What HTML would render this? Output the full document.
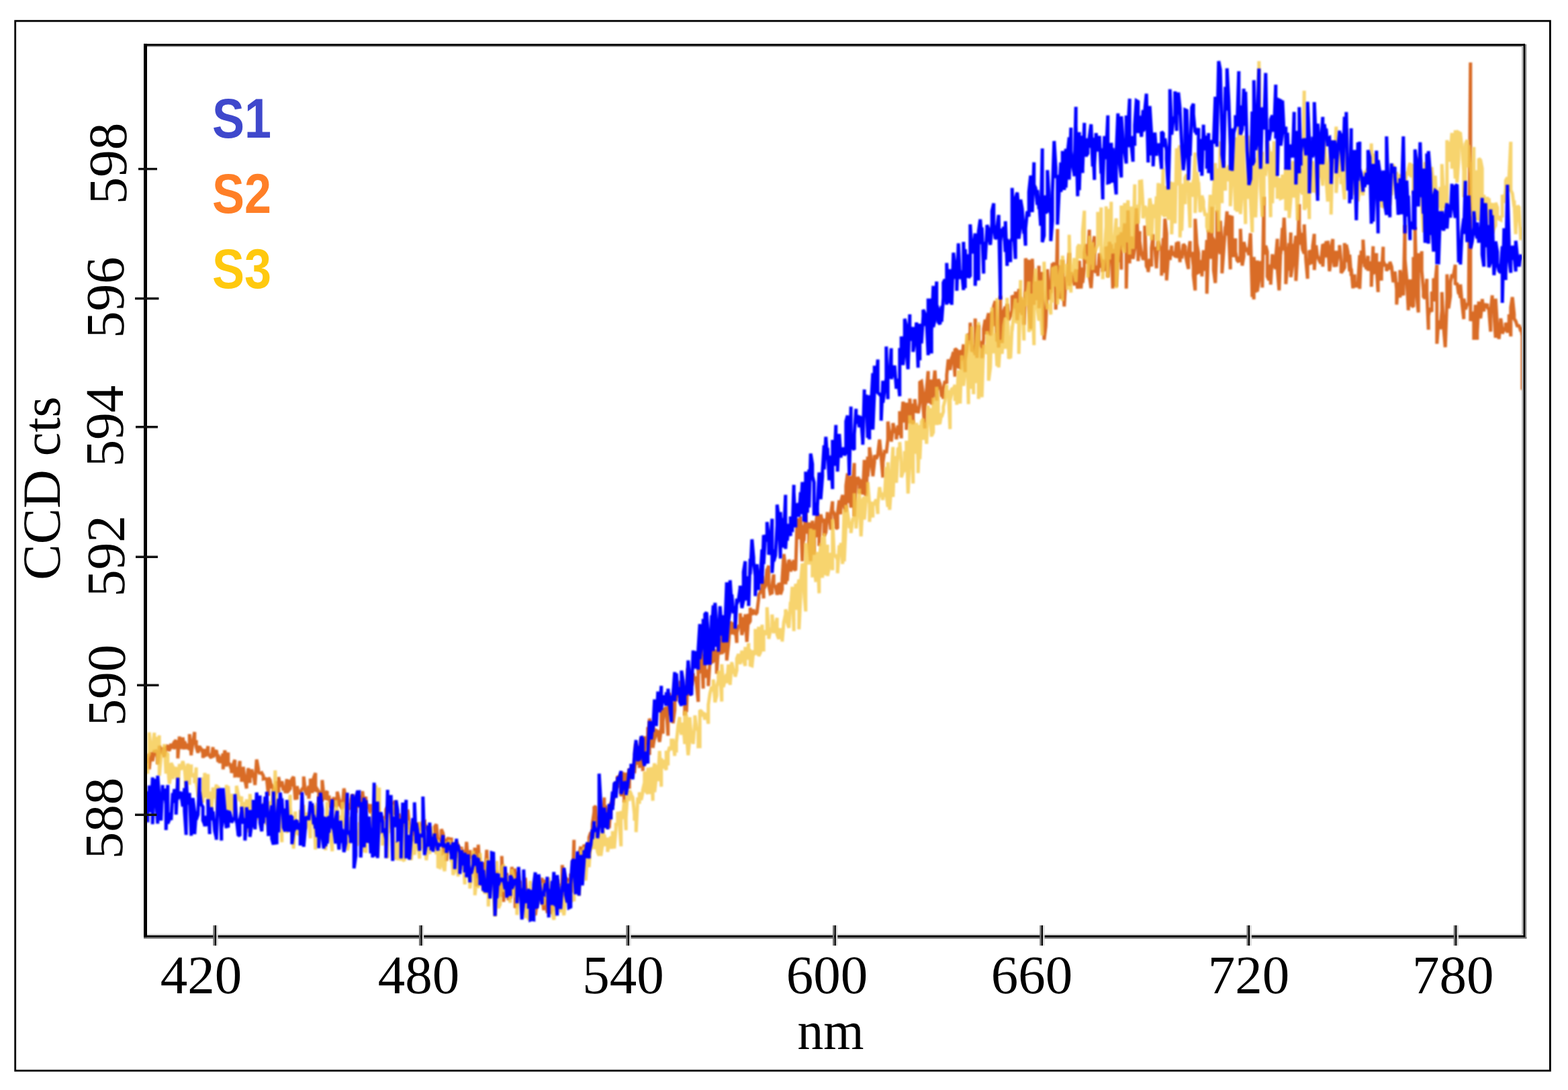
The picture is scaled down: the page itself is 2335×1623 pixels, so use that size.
<!DOCTYPE html>
<html>
<head>
<meta charset="utf-8">
<title>CCD cts vs nm</title>
<style>
html,body{margin:0;padding:0;background:#fff;}
body{width:2335px;height:1623px;overflow:hidden;}
svg{display:block;}
.ser{font-family:"Liberation Serif",serif;font-size:81px;fill:#000;text-rendering:geometricPrecision;}
.leg{font-family:"Liberation Sans",sans-serif;font-weight:bold;font-size:83px;}
.ln{fill:none;stroke-width:5;stroke-linejoin:miter;stroke-miterlimit:2;stroke-linecap:square;}
</style>
</head>
<body>
<svg width="2335" height="1623" viewBox="0 0 2335 1623">
<rect x="0" y="0" width="2335" height="1623" fill="#fff"/>
<!-- outer frame -->
<rect x="22.7" y="31.2" width="2285.7" height="1563" fill="none" stroke="#000" stroke-width="2.8"/>
<!-- curves -->
<defs><filter id="soft" x="0" y="0" width="2335" height="1623" filterUnits="userSpaceOnUse"><feGaussianBlur stdDeviation="0.8"/></filter></defs>
<g>
<polyline class="ln" filter="url(#soft)" stroke="#d96c28" points="219.8,1135.8 219.8,1136.7 222.2,1122.4 222.2,1145.5 224.8,1120.1 227.2,1125.2 227.2,1133.4 229.8,1119.1 229.8,1118.9 232.2,1118.4 234.8,1128.2 234.8,1137.8 237.2,1121.3 237.2,1110.4 239.8,1122.5 242.2,1112.8 242.2,1117.3 244.8,1126.9 247.2,1110.7 247.2,1116.7 249.8,1109.0 249.8,1114.7 252.2,1117.8 254.8,1107.3 254.8,1112.3 257.2,1112.9 257.2,1109.3 259.8,1104.5 262.2,1102.3 262.2,1112.4 264.8,1111.2 264.8,1129.2 267.2,1096.8 269.8,1113.5 269.8,1115.3 272.2,1098.0 274.8,1115.8 274.8,1104.2 277.2,1111.0 277.2,1115.3 279.8,1107.6 282.2,1116.7 282.2,1093.1 284.8,1124.7 284.8,1122.1 287.2,1105.6 289.8,1090.0 289.8,1108.8 292.2,1102.2 292.2,1111.7 294.8,1120.9 297.2,1110.3 297.2,1111.8 299.8,1115.6 302.2,1120.9 302.2,1128.6 304.8,1115.3 304.8,1125.1 307.2,1124.2 309.8,1110.9 309.8,1122.2 312.2,1124.5 312.2,1125.6 314.8,1128.6 317.2,1112.4 317.2,1127.3 319.8,1122.3 322.2,1116.8 322.2,1117.0 324.8,1134.3 324.8,1123.7 327.2,1136.1 329.8,1126.6 329.8,1130.7 332.2,1122.1 332.2,1145.4 334.8,1117.3 337.2,1133.6 337.2,1141.2 339.8,1120.4 339.8,1136.0 342.2,1138.0 344.8,1146.5 344.8,1151.1 347.2,1138.5 349.8,1131.4 349.8,1155.2 352.2,1155.0 352.2,1142.2 354.8,1150.0 357.2,1133.0 357.2,1154.5 359.8,1153.2 359.8,1164.0 362.2,1141.9 364.8,1164.2 364.8,1161.0 367.2,1174.0 367.2,1167.4 369.8,1143.7 372.2,1165.8 372.2,1159.0 374.8,1145.8 377.2,1157.5 377.2,1150.3 379.8,1168.9 379.8,1167.3 382.2,1131.0 384.8,1145.4 384.8,1148.4 387.2,1152.5 387.2,1152.1 389.8,1150.8 392.2,1155.3 392.2,1159.8 394.8,1159.4 397.2,1159.7 397.2,1159.5 399.8,1185.1 399.8,1157.9 402.2,1161.8 404.8,1173.9 404.8,1167.8 407.2,1174.2 407.2,1177.4 409.8,1181.4 412.2,1177.3 412.2,1163.1 414.8,1180.6 414.8,1157.0 417.2,1170.8 419.8,1167.8 419.8,1163.3 422.2,1177.1 424.8,1170.8 424.8,1181.1 427.2,1160.1 427.2,1180.0 429.8,1177.2 432.2,1174.2 432.2,1161.0 434.8,1171.2 434.8,1160.1 437.2,1156.6 439.8,1191.1 439.8,1182.7 442.2,1190.2 442.2,1170.5 444.8,1180.8 447.2,1181.0 447.2,1180.3 449.8,1175.0 452.2,1172.6 452.2,1156.3 454.8,1179.7 454.8,1177.6 457.2,1183.8 459.8,1170.2 459.8,1189.2 462.2,1167.7 462.2,1159.4 464.8,1180.5 467.2,1166.2 467.2,1158.0 469.8,1151.0 469.8,1178.6 472.2,1174.9 474.8,1179.0 474.8,1194.7 477.2,1185.1 479.8,1193.5 479.8,1161.4 482.2,1185.2 482.2,1190.6 484.8,1181.3 487.2,1178.1 487.2,1191.5 489.8,1186.5 489.8,1184.7 492.2,1201.2 494.8,1203.4 494.8,1194.1 497.2,1187.3 499.8,1196.8 499.8,1200.3 502.2,1198.7 502.2,1178.8 504.8,1190.0 507.2,1197.2 507.2,1200.2 509.8,1204.0 509.8,1202.3 512.2,1174.0 514.8,1187.9 514.8,1182.7 517.2,1213.2 517.2,1196.8 519.8,1200.6 522.2,1205.4 522.2,1191.7 524.8,1183.4 527.2,1190.7 527.2,1193.5 529.8,1210.2 529.8,1203.8 532.2,1184.0 534.8,1201.7 534.8,1202.4 537.2,1184.3 537.2,1194.8 539.8,1178.2 542.2,1201.2 542.2,1195.7 544.8,1186.2 544.8,1193.8 547.2,1204.3 549.8,1197.3 549.8,1206.9 552.2,1210.4 554.8,1197.4 554.8,1203.7 557.2,1227.5 557.2,1210.1 559.8,1201.3 562.2,1210.8 562.2,1196.8 564.8,1222.4 564.8,1214.8 567.2,1222.6 569.8,1221.0 569.8,1215.9 572.2,1222.4 574.8,1214.3 574.8,1205.4 577.2,1201.6 577.2,1208.1 579.8,1191.9 582.2,1233.7 582.2,1194.7 584.8,1213.2 584.8,1199.4 587.2,1192.5 589.8,1213.9 589.8,1211.8 592.2,1214.6 592.2,1223.9 594.8,1211.6 597.2,1224.2 597.2,1226.9 599.8,1218.3 602.2,1220.0 602.2,1230.6 604.8,1226.2 604.8,1228.6 607.2,1205.6 609.8,1229.7 609.8,1234.4 612.2,1229.2 612.2,1235.0 614.8,1252.7 617.2,1233.5 617.2,1240.2 619.8,1224.9 619.8,1225.7 622.2,1230.2 624.8,1225.5 624.8,1236.1 627.2,1227.9 629.8,1235.8 629.8,1224.9 632.2,1223.7 632.2,1233.5 634.8,1230.7 637.2,1235.3 637.2,1236.5 639.8,1239.7 639.8,1255.1 642.2,1259.4 644.8,1253.3 644.8,1242.4 647.2,1263.6 647.2,1231.3 649.8,1227.4 652.2,1253.0 652.2,1250.9 654.8,1250.3 657.2,1253.2 657.2,1234.7 659.8,1241.1 659.8,1270.2 662.2,1268.9 664.8,1248.8 664.8,1281.9 667.2,1246.3 667.2,1253.3 669.8,1264.9 672.2,1247.2 672.2,1257.0 674.8,1261.9 677.2,1259.9 677.2,1277.2 679.8,1274.6 679.8,1253.4 682.2,1259.7 684.8,1272.1 684.8,1269.7 687.2,1260.9 687.2,1278.3 689.8,1284.7 692.2,1265.6 692.2,1286.3 694.8,1253.4 694.8,1254.4 697.2,1285.9 699.8,1267.4 699.8,1265.9 702.2,1278.0 704.8,1272.7 704.8,1289.5 707.2,1262.2 707.2,1280.6 709.8,1319.8 712.2,1290.8 712.2,1257.7 714.8,1301.5 714.8,1301.9 717.2,1317.9 719.8,1297.3 719.8,1284.0 722.2,1322.8 722.2,1310.7 724.8,1265.4 727.2,1312.5 727.2,1295.3 729.8,1320.4 732.2,1294.1 732.2,1315.7 734.8,1305.6 734.8,1313.3 737.2,1303.1 739.8,1296.7 739.8,1305.9 742.2,1316.6 742.2,1313.4 744.8,1335.2 747.2,1314.8 747.2,1274.6 749.8,1342.8 752.2,1310.4 752.2,1319.2 754.8,1300.0 754.8,1311.9 757.2,1340.3 759.8,1317.8 759.8,1338.2 762.2,1295.7 762.2,1290.8 764.8,1321.4 767.2,1293.2 767.2,1352.0 769.8,1340.8 769.8,1298.2 772.2,1318.0 774.8,1311.8 774.8,1330.3 777.2,1322.9 779.8,1341.4 779.8,1351.9 782.2,1322.9 782.2,1307.0 784.8,1338.8 787.2,1326.1 787.2,1349.3 789.8,1326.3 789.8,1343.6 792.2,1334.9 794.8,1325.7 794.8,1321.2 797.2,1341.4 797.2,1362.7 799.8,1343.5 802.2,1326.7 802.2,1341.1 804.8,1331.0 807.2,1307.1 807.2,1334.3 809.8,1355.2 809.8,1323.7 812.2,1310.0 814.8,1337.2 814.8,1359.6 817.2,1344.3 817.2,1345.2 819.8,1360.4 822.2,1354.6 822.2,1338.8 824.8,1322.7 827.2,1328.2 827.2,1323.7 829.8,1339.5 829.8,1309.4 832.2,1350.7 834.8,1326.2 834.8,1316.3 837.2,1336.5 837.2,1288.1 839.8,1306.1 842.2,1308.1 842.2,1331.9 844.8,1308.9 844.8,1339.5 847.2,1307.5 849.8,1322.2 849.8,1300.7 852.2,1329.2 854.8,1250.5 854.8,1314.4 857.2,1294.4 857.2,1281.2 859.8,1294.2 862.2,1316.8 862.2,1273.9 864.8,1260.6 864.8,1278.7 867.2,1293.4 869.8,1257.4 869.8,1262.0 872.2,1269.7 872.2,1257.1 874.8,1262.3 877.2,1270.8 877.2,1246.9 879.8,1239.4 882.2,1244.9 882.2,1226.9 884.8,1208.5 884.8,1202.2 887.2,1200.5 889.8,1246.2 889.8,1216.2 892.2,1225.1 892.2,1226.8 894.8,1202.3 897.2,1224.7 897.2,1207.2 899.8,1187.5 899.8,1211.6 902.2,1199.5 904.8,1209.2 904.8,1214.5 907.2,1233.1 909.8,1194.5 909.8,1195.2 912.2,1198.9 912.2,1192.3 914.8,1183.7 917.2,1166.5 917.2,1165.0 919.8,1173.1 919.8,1155.2 922.2,1160.3 924.8,1152.0 924.8,1185.7 927.2,1149.7 929.8,1194.9 929.8,1162.6 932.2,1155.6 932.2,1150.5 934.8,1172.1 937.2,1172.1 937.2,1144.5 939.8,1156.6 939.8,1146.9 942.2,1142.4 944.8,1144.4 944.8,1151.3 947.2,1110.7 947.2,1107.5 949.8,1138.6 952.2,1132.5 952.2,1143.4 954.8,1099.8 957.2,1108.6 957.2,1148.2 959.8,1096.2 959.8,1121.5 962.2,1098.2 964.8,1101.5 964.8,1082.5 967.2,1124.0 967.2,1069.9 969.8,1079.7 972.2,1082.5 972.2,1113.6 974.8,1097.4 974.8,1100.9 977.2,1087.9 979.8,1089.5 979.8,1091.1 982.2,1104.8 984.8,1083.0 984.8,1054.6 987.2,1092.4 987.2,1074.1 989.8,1053.2 992.2,1065.9 992.2,1051.7 994.8,1095.4 994.8,1058.2 997.2,1031.7 999.8,1064.9 999.8,1045.6 1002.2,1076.8 1004.8,1057.2 1004.8,1025.8 1007.2,1044.0 1007.2,1033.2 1009.8,1036.6 1012.2,1036.4 1012.2,1013.7 1014.8,1045.4 1014.8,1026.2 1017.2,1023.7 1019.8,1048.5 1019.8,1065.4 1022.2,1021.5 1022.2,1060.5 1024.8,994.9 1027.2,1035.5 1027.2,1013.8 1029.8,1020.5 1032.2,1002.4 1032.2,1007.1 1034.8,1010.0 1034.8,1007.3 1037.2,1018.9 1039.8,1045.0 1039.8,995.7 1042.2,1002.4 1042.2,971.2 1044.8,966.1 1047.2,1025.3 1047.2,974.4 1049.8,983.3 1049.8,995.2 1052.2,1009.0 1054.8,996.8 1054.8,1021.6 1057.2,984.7 1059.8,955.3 1059.8,986.7 1062.2,984.6 1062.2,967.5 1064.8,973.8 1067.2,968.0 1067.2,1003.2 1069.8,964.3 1069.8,950.5 1072.2,974.5 1074.8,938.6 1074.8,972.7 1077.2,970.3 1077.2,947.0 1079.8,949.5 1082.2,946.4 1082.2,983.6 1084.8,959.8 1087.2,928.3 1087.2,924.9 1089.8,944.6 1089.8,943.7 1092.2,926.7 1094.8,945.3 1094.8,933.4 1097.2,957.2 1097.2,942.7 1099.8,930.8 1102.2,934.0 1102.2,913.2 1104.8,945.5 1107.2,934.7 1107.2,918.8 1109.8,927.2 1109.8,914.5 1112.2,955.8 1114.8,913.8 1114.8,928.6 1117.2,924.7 1117.2,905.1 1119.8,915.5 1122.2,907.3 1122.2,913.1 1124.8,910.2 1124.8,915.0 1127.2,912.2 1129.8,890.7 1129.8,885.8 1132.2,881.7 1134.8,874.4 1134.8,857.7 1137.2,891.1 1137.2,877.4 1139.8,872.3 1142.2,847.2 1142.2,849.5 1144.8,842.3 1144.8,871.4 1147.2,883.8 1149.8,882.6 1149.8,871.7 1152.2,855.3 1152.2,872.9 1154.8,873.0 1157.2,884.9 1157.2,886.0 1159.8,868.4 1162.2,872.4 1162.2,885.1 1164.8,877.9 1164.8,862.6 1167.2,825.0 1169.8,844.6 1169.8,870.0 1172.2,852.3 1172.2,865.1 1174.8,833.7 1177.2,838.7 1177.2,850.7 1179.8,844.6 1182.2,833.9 1182.2,846.7 1184.8,849.2 1184.8,847.9 1187.2,771.8 1189.8,799.1 1189.8,801.7 1192.2,799.7 1192.2,768.9 1194.8,835.6 1197.2,781.7 1197.2,805.3 1199.8,758.8 1199.8,789.4 1202.2,793.6 1204.8,778.0 1204.8,812.0 1207.2,835.5 1209.8,776.1 1209.8,775.3 1212.2,826.1 1212.2,801.1 1214.8,782.7 1217.2,763.2 1217.2,799.9 1219.8,788.9 1219.8,812.9 1222.2,766.0 1224.8,777.9 1224.8,774.1 1227.2,774.5 1227.2,797.8 1229.8,792.5 1232.2,762.5 1232.2,771.9 1234.8,767.9 1237.2,788.7 1237.2,766.4 1239.8,746.5 1239.8,760.2 1242.2,764.3 1244.8,781.7 1244.8,787.1 1247.2,785.6 1247.2,765.0 1249.8,745.1 1252.2,765.7 1252.2,747.9 1254.8,737.0 1257.2,754.0 1257.2,754.4 1259.8,762.3 1259.8,723.2 1262.2,704.9 1264.8,749.0 1264.8,715.8 1267.2,755.8 1267.2,708.8 1269.8,718.0 1272.2,689.4 1272.2,769.1 1274.8,715.3 1274.8,721.6 1277.2,710.6 1279.8,714.9 1279.8,735.2 1282.2,718.6 1284.8,714.5 1284.8,736.6 1287.2,684.8 1287.2,731.5 1289.8,738.4 1292.2,679.9 1292.2,709.5 1294.8,679.0 1294.8,666.0 1297.2,684.1 1299.8,706.9 1299.8,709.2 1302.2,687.8 1302.2,677.7 1304.8,683.4 1307.2,677.2 1307.2,677.0 1309.8,654.5 1312.2,680.1 1312.2,680.4 1314.8,711.0 1314.8,688.5 1317.2,672.5 1319.8,673.3 1319.8,675.0 1322.2,653.7 1322.2,627.7 1324.8,646.8 1327.2,653.6 1327.2,657.6 1329.8,637.5 1329.8,630.0 1332.2,641.1 1334.8,645.2 1334.8,654.3 1337.2,633.6 1339.8,647.5 1339.8,612.3 1342.2,652.7 1342.2,630.6 1344.8,598.1 1347.2,622.3 1347.2,629.0 1349.8,599.4 1349.8,640.1 1352.2,613.1 1354.8,630.2 1354.8,593.5 1357.2,623.1 1359.8,631.5 1359.8,601.3 1362.2,605.5 1362.2,594.4 1364.8,614.8 1367.2,605.6 1367.2,615.4 1369.8,599.8 1369.8,569.3 1372.2,567.8 1374.8,587.2 1374.8,606.7 1377.2,638.1 1377.2,612.4 1379.8,579.9 1382.2,552.6 1382.2,600.2 1384.8,589.2 1387.2,565.3 1387.2,602.4 1389.8,585.3 1389.8,577.1 1392.2,551.7 1394.8,596.5 1394.8,581.3 1397.2,575.4 1397.2,564.5 1399.8,571.7 1402.2,591.0 1402.2,579.4 1404.8,593.9 1404.8,579.5 1407.2,567.4 1409.8,571.0 1409.8,558.6 1412.2,535.3 1414.8,542.5 1414.8,550.9 1417.2,531.9 1417.2,535.1 1419.8,524.0 1422.2,560.8 1422.2,519.3 1424.8,521.3 1424.8,521.6 1427.2,546.3 1429.8,547.2 1429.8,521.2 1432.2,536.5 1434.8,512.7 1434.8,524.8 1437.2,554.1 1437.2,536.9 1439.8,519.5 1442.2,496.7 1442.2,512.1 1444.8,493.1 1444.8,480.5 1447.2,523.1 1449.8,521.2 1449.8,514.0 1452.2,528.5 1452.2,474.3 1454.8,532.8 1457.2,483.8 1457.2,510.1 1459.8,510.0 1462.2,519.7 1462.2,533.4 1464.8,503.5 1464.8,489.6 1467.2,476.0 1469.8,497.6 1469.8,477.1 1472.2,466.2 1472.2,485.0 1474.8,499.6 1477.2,479.8 1477.2,463.7 1479.8,485.4 1479.8,455.9 1482.2,448.2 1484.8,508.7 1484.8,481.7 1487.2,517.5 1489.8,440.5 1489.8,495.3 1492.2,466.4 1492.2,510.8 1494.8,462.7 1497.2,456.6 1497.2,472.7 1499.8,466.4 1499.8,452.5 1502.2,476.4 1504.8,470.4 1504.8,472.0 1507.2,461.8 1507.2,441.9 1509.8,440.9 1512.2,459.5 1512.2,434.2 1514.8,476.9 1517.2,447.4 1517.2,430.3 1519.8,465.6 1519.8,442.8 1522.2,469.1 1524.8,445.9 1524.8,483.6 1527.2,428.6 1527.2,384.8 1529.8,393.5 1532.2,387.2 1532.2,451.8 1534.8,489.6 1537.2,425.1 1537.2,385.3 1539.8,453.8 1539.8,446.9 1542.2,419.3 1544.8,447.0 1544.8,434.2 1547.2,395.7 1547.2,459.0 1549.8,419.4 1552.2,405.1 1552.2,430.2 1554.8,492.5 1554.8,506.1 1557.2,486.3 1559.8,420.4 1559.8,400.9 1562.2,446.2 1564.8,427.6 1564.8,436.4 1567.2,391.9 1567.2,398.8 1569.8,390.9 1572.2,452.4 1572.2,460.9 1574.8,341.0 1574.8,441.8 1577.2,442.4 1579.8,395.0 1579.8,419.8 1582.2,445.1 1582.2,387.1 1584.8,456.3 1587.2,412.0 1587.2,419.4 1589.8,410.5 1592.2,376.6 1592.2,425.6 1594.8,416.1 1594.8,405.8 1597.2,410.3 1599.8,425.0 1599.8,411.4 1602.2,401.1 1602.2,414.3 1604.8,429.7 1607.2,410.8 1607.2,388.1 1609.8,429.5 1612.2,398.3 1612.2,421.3 1614.8,399.8 1614.8,375.4 1617.2,363.8 1619.8,373.1 1619.8,392.6 1622.2,342.0 1622.2,409.5 1624.8,429.0 1627.2,390.6 1627.2,366.6 1629.8,351.8 1629.8,401.6 1632.2,405.7 1634.8,396.0 1634.8,411.1 1637.2,377.3 1639.8,386.9 1639.8,398.7 1642.2,386.6 1642.2,402.2 1644.8,401.7 1647.2,383.7 1647.2,367.4 1649.8,372.2 1649.8,412.8 1652.2,360.1 1654.8,388.1 1654.8,363.5 1657.2,429.6 1657.2,370.5 1659.8,398.6 1662.2,361.6 1662.2,427.1 1664.8,350.8 1667.2,390.2 1667.2,349.3 1669.8,401.4 1669.8,345.7 1672.2,366.4 1674.8,332.6 1674.8,365.6 1677.2,376.6 1677.2,429.8 1679.8,313.3 1682.2,392.2 1682.2,375.1 1684.8,352.2 1687.2,364.9 1687.2,385.6 1689.8,369.5 1689.8,368.5 1692.2,310.0 1694.8,357.6 1694.8,388.8 1697.2,344.2 1697.2,358.8 1699.8,377.6 1702.2,385.3 1702.2,387.2 1704.8,373.5 1704.8,335.9 1707.2,396.0 1709.8,401.0 1709.8,405.1 1712.2,385.6 1714.8,396.8 1714.8,369.5 1717.2,348.8 1717.2,370.9 1719.8,368.3 1722.2,399.5 1722.2,394.1 1724.8,358.6 1724.8,360.3 1727.2,369.8 1729.8,372.4 1729.8,410.4 1732.2,354.7 1732.2,406.5 1734.8,325.6 1737.2,348.1 1737.2,417.5 1739.8,380.7 1742.2,373.0 1742.2,387.1 1744.8,365.7 1744.8,373.7 1747.2,378.6 1749.8,379.2 1749.8,383.2 1752.2,360.8 1752.2,384.3 1754.8,359.6 1757.2,390.4 1757.2,374.0 1759.8,383.8 1759.8,385.0 1762.2,363.6 1764.8,367.1 1764.8,375.2 1767.2,388.7 1769.8,400.5 1769.8,375.9 1772.2,359.1 1772.2,382.7 1774.8,375.3 1777.2,396.7 1777.2,410.0 1779.8,432.5 1779.8,325.8 1782.2,363.2 1784.8,377.3 1784.8,405.5 1787.2,404.4 1789.8,387.5 1789.8,411.6 1792.2,372.6 1792.2,380.4 1794.8,403.3 1797.2,357.3 1797.2,437.3 1799.8,357.5 1799.8,342.3 1802.2,385.3 1804.8,307.9 1804.8,352.5 1807.2,357.1 1807.2,401.5 1809.8,421.3 1812.2,360.7 1812.2,313.3 1814.8,364.7 1817.2,378.2 1817.2,328.7 1819.8,369.0 1819.8,407.0 1822.2,374.3 1824.8,337.1 1824.8,344.7 1827.2,314.8 1827.2,350.0 1829.8,346.9 1832.2,401.1 1832.2,322.9 1834.8,323.7 1834.8,371.1 1837.2,382.5 1839.8,354.9 1839.8,374.7 1842.2,387.4 1844.8,390.2 1844.8,382.4 1847.2,387.5 1847.2,340.7 1849.8,395.5 1852.2,381.8 1852.2,360.2 1854.8,371.3 1854.8,374.8 1857.2,369.3 1859.8,380.0 1859.8,375.1 1862.2,347.3 1864.8,442.2 1864.8,399.5 1867.2,445.8 1867.2,382.5 1869.8,435.5 1872.2,387.7 1872.2,434.1 1874.8,417.0 1874.8,413.0 1877.2,388.9 1879.8,399.6 1879.8,428.3 1882.2,293.0 1882.2,378.8 1884.8,366.0 1887.2,374.9 1887.2,411.8 1889.8,417.2 1892.2,393.9 1892.2,423.8 1894.8,378.4 1894.8,379.1 1897.2,395.0 1899.8,400.3 1899.8,384.1 1902.2,355.6 1902.2,400.0 1904.8,432.3 1907.2,367.9 1907.2,378.2 1909.8,339.3 1909.8,373.1 1912.2,324.0 1914.8,380.1 1914.8,423.0 1917.2,393.6 1919.8,362.0 1919.8,402.9 1922.2,346.2 1922.2,412.7 1924.8,395.3 1927.2,363.3 1927.2,371.8 1929.8,351.0 1929.8,418.3 1932.2,377.1 1934.8,304.0 1934.8,337.6 1937.2,364.4 1937.2,346.8 1939.8,371.5 1942.2,377.7 1942.2,334.2 1944.8,388.0 1947.2,415.0 1947.2,385.7 1949.8,394.6 1949.8,373.1 1952.2,376.3 1954.8,393.1 1954.8,366.9 1957.2,348.2 1957.2,402.0 1959.8,365.4 1962.2,385.3 1962.2,381.3 1964.8,388.1 1967.2,392.6 1967.2,389.6 1969.8,363.4 1969.8,397.1 1972.2,362.5 1974.8,383.3 1974.8,359.1 1977.2,377.4 1977.2,358.4 1979.8,403.9 1982.2,383.8 1982.2,367.9 1984.8,356.1 1984.8,372.6 1987.2,397.6 1989.8,373.3 1989.8,396.9 1992.2,379.7 1994.8,378.0 1994.8,365.1 1997.2,390.3 1997.2,406.4 1999.8,402.7 2002.2,398.3 2002.2,362.1 2004.8,390.3 2004.8,364.3 2007.2,375.1 2009.8,404.0 2009.8,379.1 2012.2,410.7 2012.2,399.9 2014.8,429.3 2017.2,408.6 2017.2,419.6 2019.8,427.2 2022.2,422.5 2022.2,423.8 2024.8,379.8 2024.8,430.2 2027.2,373.1 2029.8,392.3 2029.8,356.8 2032.2,397.6 2032.2,387.9 2034.8,400.8 2037.2,380.9 2037.2,403.3 2039.8,389.4 2042.2,403.1 2042.2,426.9 2044.8,366.7 2044.8,407.0 2047.2,405.0 2049.8,376.9 2049.8,397.3 2052.2,434.9 2052.2,411.5 2054.8,389.7 2057.2,417.8 2057.2,408.1 2059.8,367.4 2059.8,388.0 2062.2,394.7 2064.8,394.8 2064.8,403.4 2067.2,397.2 2069.8,400.8 2069.8,389.8 2072.2,396.6 2072.2,396.3 2074.8,420.2 2077.2,410.1 2077.2,404.2 2079.8,430.6 2079.8,453.6 2082.2,420.5 2084.8,443.1 2084.8,402.2 2087.2,414.5 2087.2,432.8 2089.8,439.7 2092.2,335.0 2092.2,386.3 2094.8,414.7 2097.2,460.5 2097.2,462.1 2099.8,416.0 2099.8,436.2 2102.2,454.8 2104.8,456.9 2104.8,382.7 2107.2,418.6 2107.2,338.2 2109.8,441.6 2112.2,465.3 2112.2,377.0 2114.8,405.4 2117.2,374.1 2117.2,402.6 2119.8,433.7 2119.8,441.6 2122.2,444.4 2124.8,415.2 2124.8,435.1 2127.2,490.9 2127.2,469.9 2129.8,458.5 2132.2,464.3 2132.2,434.2 2134.8,448.8 2134.8,414.6 2137.2,421.5 2139.8,394.3 2139.8,511.9 2142.2,479.6 2144.8,479.3 2144.8,490.3 2147.2,461.5 2147.2,434.9 2149.8,487.9 2152.2,517.0 2152.2,517.0 2154.8,445.9 2154.8,408.4 2157.2,459.2 2159.8,440.5 2159.8,420.8 2162.2,408.6 2162.2,413.5 2164.8,408.2 2167.2,394.2 2167.2,423.9 2169.8,421.4 2172.2,438.0 2172.2,430.5 2174.8,443.6 2174.8,423.4 2177.2,451.9 2179.8,475.1 2179.8,444.8 2182.2,456.4 2182.2,460.7 2184.8,453.4 2187.2,452.3 2187.2,425.7 2189.8,93.0 2189.8,478.0 2192.2,464.4 2194.8,471.4 2194.8,506.0 2197.2,453.8 2199.8,505.9 2199.8,496.1 2202.2,449.0 2202.2,464.0 2204.8,473.9 2207.2,451.8 2207.2,445.3 2209.8,463.8 2209.8,452.2 2212.2,458.2 2214.8,452.3 2214.8,457.5 2217.2,460.9 2219.8,493.8 2219.8,463.6 2222.2,439.8 2222.2,464.1 2224.8,465.8 2227.2,502.8 2227.2,444.7 2229.8,486.2 2229.8,483.6 2232.2,504.7 2234.8,477.8 2234.8,474.0 2237.2,491.6 2237.2,496.7 2239.8,490.2 2242.2,491.7 2242.2,480.4 2244.8,495.3 2247.2,480.1 2247.2,467.9 2249.8,500.9 2249.8,457.6 2252.2,442.5 2254.8,468.0 2254.8,474.8 2257.2,478.2 2257.2,478.2 2259.8,486.5 2262.2,483.6 2262.2,484.5 2264.8,493.3 2264.8,487.4 2267.0,500.0 2267.0,578.0"/>
<polyline class="ln" filter="url(#soft)" stroke="#f5c94a" stroke-opacity="0.8" points="219.8,1149.7 219.8,1128.0 222.2,1122.2 222.2,1090.6 224.8,1115.8 227.2,1114.6 227.2,1119.6 229.8,1091.0 229.8,1120.6 232.2,1112.8 234.8,1097.5 234.8,1138.2 237.2,1095.0 237.2,1155.0 239.8,1127.4 242.2,1121.9 242.2,1122.1 244.8,1108.1 247.2,1151.9 247.2,1121.2 249.8,1122.7 249.8,1140.2 252.2,1167.0 254.8,1151.3 254.8,1136.1 257.2,1140.9 257.2,1159.7 259.8,1149.6 262.2,1141.9 262.2,1149.8 264.8,1163.6 264.8,1177.2 267.2,1137.6 269.8,1146.6 269.8,1144.8 272.2,1133.2 274.8,1144.3 274.8,1143.5 277.2,1173.3 277.2,1156.8 279.8,1137.0 282.2,1168.5 282.2,1155.7 284.8,1138.3 284.8,1154.4 287.2,1155.5 289.8,1152.5 289.8,1166.2 292.2,1142.8 292.2,1164.1 294.8,1183.5 297.2,1182.4 297.2,1187.2 299.8,1188.5 302.2,1195.1 302.2,1157.6 304.8,1187.9 304.8,1150.9 307.2,1168.3 309.8,1152.7 309.8,1195.5 312.2,1201.0 312.2,1178.5 314.8,1208.8 317.2,1172.5 317.2,1186.3 319.8,1187.0 322.2,1168.0 322.2,1193.2 324.8,1214.9 324.8,1170.3 327.2,1203.4 329.8,1186.3 329.8,1218.9 332.2,1198.8 332.2,1202.9 334.8,1203.1 337.2,1197.0 337.2,1168.7 339.8,1218.7 339.8,1170.5 342.2,1199.8 344.8,1207.3 344.8,1182.0 347.2,1200.4 349.8,1219.6 349.8,1198.8 352.2,1183.9 352.2,1169.9 354.8,1183.8 357.2,1191.4 357.2,1193.5 359.8,1186.0 359.8,1211.4 362.2,1194.5 364.8,1203.9 364.8,1218.9 367.2,1190.3 367.2,1200.9 369.8,1239.0 372.2,1223.7 372.2,1182.3 374.8,1205.8 377.2,1218.5 377.2,1231.9 379.8,1210.9 379.8,1197.7 382.2,1193.9 384.8,1221.4 384.8,1215.1 387.2,1198.6 387.2,1205.3 389.8,1200.9 392.2,1224.4 392.2,1195.6 394.8,1220.0 397.2,1227.9 397.2,1220.5 399.8,1193.1 399.8,1239.1 402.2,1196.6 404.8,1220.2 404.8,1195.3 407.2,1175.2 407.2,1216.6 409.8,1147.0 412.2,1210.9 412.2,1219.4 414.8,1199.8 414.8,1198.5 417.2,1211.8 419.8,1254.1 419.8,1235.3 422.2,1206.1 424.8,1231.2 424.8,1208.4 427.2,1209.6 427.2,1240.5 429.8,1209.4 432.2,1183.4 432.2,1201.9 434.8,1225.7 434.8,1227.4 437.2,1263.7 439.8,1208.3 439.8,1241.9 442.2,1234.8 442.2,1221.6 444.8,1243.9 447.2,1236.0 447.2,1205.9 449.8,1248.6 452.2,1198.4 452.2,1226.4 454.8,1225.4 454.8,1234.8 457.2,1210.0 459.8,1225.3 459.8,1223.2 462.2,1248.3 462.2,1209.3 464.8,1228.5 467.2,1221.4 467.2,1198.9 469.8,1265.0 469.8,1226.3 472.2,1195.3 474.8,1259.5 474.8,1204.9 477.2,1237.0 479.8,1248.2 479.8,1214.9 482.2,1219.9 482.2,1217.7 484.8,1266.0 487.2,1193.7 487.2,1202.3 489.8,1226.7 489.8,1252.9 492.2,1243.8 494.8,1267.4 494.8,1245.0 497.2,1218.1 499.8,1226.7 499.8,1191.5 502.2,1207.8 502.2,1206.4 504.8,1235.2 507.2,1243.5 507.2,1216.5 509.8,1215.8 509.8,1194.3 512.2,1225.9 514.8,1234.3 514.8,1238.6 517.2,1211.1 517.2,1266.3 519.8,1255.1 522.2,1226.3 522.2,1216.5 524.8,1221.1 527.2,1231.5 527.2,1227.7 529.8,1238.8 529.8,1245.2 532.2,1258.9 534.8,1254.1 534.8,1224.3 537.2,1236.1 537.2,1216.8 539.8,1211.2 542.2,1269.1 542.2,1213.4 544.8,1270.0 544.8,1215.4 547.2,1231.4 549.8,1254.5 549.8,1224.6 552.2,1234.9 554.8,1216.2 554.8,1208.9 557.2,1217.7 557.2,1202.6 559.8,1169.0 562.2,1217.4 562.2,1275.0 564.8,1172.7 564.8,1225.3 567.2,1242.2 569.8,1217.4 569.8,1258.9 572.2,1246.1 574.8,1220.3 574.8,1241.4 577.2,1277.7 577.2,1237.4 579.8,1239.4 582.2,1219.6 582.2,1236.1 584.8,1198.2 584.8,1228.6 587.2,1279.7 589.8,1263.5 589.8,1252.8 592.2,1265.3 592.2,1280.9 594.8,1253.2 597.2,1281.5 597.2,1266.2 599.8,1280.0 602.2,1281.8 602.2,1200.8 604.8,1228.3 604.8,1248.4 607.2,1222.1 609.8,1239.9 609.8,1229.9 612.2,1230.3 612.2,1280.7 614.8,1258.5 617.2,1244.9 617.2,1272.8 619.8,1242.4 619.8,1264.5 622.2,1254.7 624.8,1278.5 624.8,1223.6 627.2,1263.2 629.8,1252.4 629.8,1231.3 632.2,1270.2 632.2,1238.1 634.8,1280.9 637.2,1263.1 637.2,1266.8 639.8,1257.5 639.8,1271.7 642.2,1230.5 644.8,1259.9 644.8,1249.5 647.2,1264.8 647.2,1260.4 649.8,1271.6 652.2,1250.1 652.2,1290.5 654.8,1291.6 657.2,1263.2 657.2,1267.3 659.8,1273.1 659.8,1289.3 662.2,1297.1 664.8,1253.2 664.8,1263.5 667.2,1257.7 667.2,1258.0 669.8,1250.9 672.2,1283.0 672.2,1260.6 674.8,1302.9 677.2,1294.8 677.2,1265.9 679.8,1267.0 679.8,1274.5 682.2,1305.0 684.8,1272.6 684.8,1263.1 687.2,1286.9 687.2,1294.5 689.8,1278.6 692.2,1316.9 692.2,1295.0 694.8,1299.5 694.8,1278.2 697.2,1292.9 699.8,1291.7 699.8,1323.0 702.2,1301.5 704.8,1266.7 704.8,1298.0 707.2,1271.7 707.2,1333.1 709.8,1308.0 712.2,1319.8 712.2,1322.3 714.8,1277.5 714.8,1270.3 717.2,1299.8 719.8,1327.3 719.8,1310.9 722.2,1327.5 722.2,1331.4 724.8,1278.3 727.2,1318.2 727.2,1349.7 729.8,1300.7 732.2,1277.1 732.2,1309.5 734.8,1305.1 734.8,1324.7 737.2,1364.6 739.8,1319.0 739.8,1281.9 742.2,1336.3 742.2,1352.2 744.8,1346.7 747.2,1288.9 747.2,1327.5 749.8,1286.8 752.2,1328.0 752.2,1321.6 754.8,1303.4 754.8,1331.1 757.2,1327.6 759.8,1344.2 759.8,1328.6 762.2,1331.6 762.2,1294.1 764.8,1305.5 767.2,1320.0 767.2,1336.3 769.8,1331.1 769.8,1362.3 772.2,1315.4 774.8,1329.0 774.8,1339.8 777.2,1330.9 779.8,1346.5 779.8,1325.7 782.2,1367.1 782.2,1332.4 784.8,1362.7 787.2,1339.4 787.2,1370.3 789.8,1311.6 789.8,1350.4 792.2,1331.3 794.8,1344.6 794.8,1363.9 797.2,1317.3 797.2,1313.7 799.8,1320.2 802.2,1345.0 802.2,1306.6 804.8,1341.9 807.2,1314.8 807.2,1317.7 809.8,1332.8 809.8,1347.4 812.2,1327.9 814.8,1330.5 814.8,1339.1 817.2,1334.3 817.2,1306.7 819.8,1330.4 822.2,1339.8 822.2,1358.6 824.8,1369.4 827.2,1349.5 827.2,1337.9 829.8,1317.8 829.8,1337.2 832.2,1349.7 834.8,1358.3 834.8,1317.8 837.2,1337.9 837.2,1347.6 839.8,1362.8 842.2,1335.0 842.2,1319.0 844.8,1315.2 844.8,1320.3 847.2,1313.7 849.8,1340.1 849.8,1343.3 852.2,1334.8 854.8,1341.9 854.8,1307.3 857.2,1321.8 857.2,1303.8 859.8,1310.4 862.2,1333.5 862.2,1303.7 864.8,1265.4 864.8,1292.4 867.2,1279.9 869.8,1261.3 869.8,1272.3 872.2,1301.9 872.2,1311.2 874.8,1268.6 877.2,1291.3 877.2,1291.0 879.8,1248.8 882.2,1264.5 882.2,1261.5 884.8,1261.9 884.8,1228.1 887.2,1247.3 889.8,1268.3 889.8,1268.3 892.2,1273.9 892.2,1241.0 894.8,1274.4 897.2,1258.0 897.2,1225.6 899.8,1260.1 899.8,1242.6 902.2,1256.8 904.8,1247.3 904.8,1268.4 907.2,1253.6 909.8,1245.5 909.8,1263.7 912.2,1250.5 912.2,1237.6 914.8,1263.4 917.2,1233.4 917.2,1227.4 919.8,1226.9 919.8,1208.7 922.2,1222.4 924.8,1260.2 924.8,1207.7 927.2,1219.2 929.8,1190.8 929.8,1194.9 932.2,1236.2 932.2,1217.6 934.8,1176.6 937.2,1192.4 937.2,1176.9 939.8,1181.7 939.8,1183.0 942.2,1187.3 944.8,1212.7 944.8,1219.7 947.2,1220.3 947.2,1239.0 949.8,1187.5 952.2,1196.8 952.2,1179.7 954.8,1191.2 957.2,1179.7 957.2,1176.3 959.8,1165.1 959.8,1148.6 962.2,1178.3 964.8,1181.9 964.8,1143.1 967.2,1165.6 967.2,1182.3 969.8,1142.4 972.2,1192.3 972.2,1152.1 974.8,1136.6 974.8,1179.5 977.2,1157.7 979.8,1139.0 979.8,1163.1 982.2,1118.1 984.8,1171.4 984.8,1129.1 987.2,1144.2 987.2,1131.7 989.8,1141.8 992.2,1146.2 992.2,1117.7 994.8,1139.8 994.8,1120.8 997.2,1112.2 999.8,1116.9 999.8,1102.2 1002.2,1102.2 1004.8,1125.4 1004.8,1104.8 1007.2,1120.4 1007.2,1105.9 1009.8,1080.9 1012.2,1067.7 1012.2,1080.0 1014.8,1094.0 1014.8,1090.1 1017.2,1076.1 1019.8,1107.7 1019.8,1059.1 1022.2,1066.1 1022.2,1092.5 1024.8,1124.6 1027.2,1098.7 1027.2,1068.0 1029.8,1103.4 1032.2,1104.2 1032.2,1107.9 1034.8,1075.7 1034.8,1065.2 1037.2,1083.6 1039.8,1088.2 1039.8,1111.7 1042.2,1111.6 1042.2,1057.5 1044.8,1059.6 1047.2,1066.4 1047.2,1060.2 1049.8,1071.6 1049.8,1068.7 1052.2,1061.9 1054.8,1077.7 1054.8,1049.5 1057.2,1032.7 1059.8,1022.4 1059.8,1027.9 1062.2,1024.7 1062.2,1011.7 1064.8,1045.7 1067.2,1035.4 1067.2,1022.9 1069.8,1012.7 1069.8,999.0 1072.2,1006.5 1074.8,1044.6 1074.8,989.1 1077.2,1015.8 1077.2,1023.0 1079.8,1012.1 1082.2,1003.7 1082.2,1017.3 1084.8,989.4 1087.2,1010.3 1087.2,1019.9 1089.8,985.7 1089.8,987.0 1092.2,997.3 1094.8,1005.7 1094.8,1007.7 1097.2,997.9 1097.2,980.8 1099.8,973.9 1102.2,988.5 1102.2,988.9 1104.8,968.9 1107.2,981.7 1107.2,983.7 1109.8,991.5 1109.8,963.3 1112.2,982.3 1114.8,957.4 1114.8,965.9 1117.2,969.2 1117.2,990.2 1119.8,991.2 1122.2,968.2 1122.2,969.6 1124.8,975.1 1124.8,936.6 1127.2,967.3 1129.8,933.3 1129.8,977.0 1132.2,972.1 1134.8,954.5 1134.8,930.2 1137.2,970.1 1137.2,943.7 1139.8,938.9 1142.2,945.3 1142.2,904.2 1144.8,941.6 1144.8,951.2 1147.2,939.0 1149.8,935.1 1149.8,915.0 1152.2,943.0 1152.2,934.6 1154.8,930.7 1157.2,920.0 1157.2,944.8 1159.8,951.3 1162.2,935.5 1162.2,944.1 1164.8,951.0 1164.8,955.3 1167.2,926.3 1169.8,914.6 1169.8,907.5 1172.2,915.1 1172.2,926.4 1174.8,934.8 1177.2,896.2 1177.2,909.8 1179.8,873.8 1182.2,939.7 1182.2,886.2 1184.8,908.1 1184.8,869.4 1187.2,879.5 1189.8,862.8 1189.8,937.1 1192.2,889.3 1192.2,868.2 1194.8,839.1 1197.2,846.1 1197.2,879.8 1199.8,910.4 1199.8,808.8 1202.2,821.1 1204.8,840.4 1204.8,822.5 1207.2,787.1 1209.8,838.0 1209.8,859.7 1212.2,788.7 1212.2,842.1 1214.8,864.1 1217.2,863.8 1217.2,821.7 1219.8,883.4 1219.8,849.3 1222.2,808.8 1224.8,860.4 1224.8,798.9 1227.2,856.5 1227.2,794.1 1229.8,851.4 1232.2,811.1 1232.2,857.5 1234.8,844.9 1237.2,835.1 1237.2,822.9 1239.8,849.0 1239.8,773.2 1242.2,828.2 1244.8,826.0 1244.8,828.3 1247.2,833.4 1247.2,853.6 1249.8,812.0 1252.2,827.2 1252.2,808.2 1254.8,839.7 1257.2,758.6 1257.2,835.9 1259.8,777.5 1259.8,752.0 1262.2,763.6 1264.8,781.1 1264.8,786.4 1267.2,778.4 1267.2,793.8 1269.8,773.1 1272.2,769.8 1272.2,734.4 1274.8,776.9 1274.8,786.9 1277.2,756.2 1279.8,727.8 1279.8,733.9 1282.2,798.7 1284.8,747.3 1284.8,744.7 1287.2,739.8 1287.2,773.6 1289.8,742.7 1292.2,734.7 1292.2,717.7 1294.8,750.8 1294.8,777.1 1297.2,747.0 1299.8,770.6 1299.8,751.8 1302.2,749.6 1302.2,748.8 1304.8,743.8 1307.2,765.2 1307.2,751.1 1309.8,725.4 1312.2,739.8 1312.2,733.7 1314.8,744.4 1314.8,736.2 1317.2,739.6 1319.8,695.5 1319.8,734.7 1322.2,754.7 1322.2,688.3 1324.8,759.2 1327.2,724.3 1327.2,708.7 1329.8,665.6 1329.8,740.0 1332.2,679.3 1334.8,689.8 1334.8,719.0 1337.2,668.4 1339.8,666.6 1339.8,658.2 1342.2,689.4 1342.2,710.7 1344.8,702.4 1347.2,700.5 1347.2,671.7 1349.8,686.8 1349.8,656.2 1352.2,734.8 1354.8,682.2 1354.8,618.6 1357.2,637.5 1359.8,719.9 1359.8,625.4 1362.2,652.3 1362.2,675.5 1364.8,629.5 1367.2,689.9 1367.2,704.5 1369.8,632.7 1369.8,683.7 1372.2,627.8 1374.8,623.5 1374.8,653.4 1377.2,651.0 1377.2,628.7 1379.8,660.9 1382.2,603.8 1382.2,615.9 1384.8,608.0 1387.2,650.3 1387.2,649.3 1389.8,643.8 1389.8,592.3 1392.2,625.9 1394.8,631.9 1394.8,576.1 1397.2,594.1 1397.2,630.2 1399.8,629.6 1402.2,615.4 1402.2,620.9 1404.8,612.8 1404.8,605.8 1407.2,596.3 1409.8,572.7 1409.8,587.8 1412.2,580.9 1414.8,638.9 1414.8,596.1 1417.2,586.4 1417.2,578.0 1419.8,579.7 1422.2,573.0 1422.2,597.0 1424.8,577.0 1424.8,602.7 1427.2,551.4 1429.8,584.5 1429.8,600.9 1432.2,529.1 1434.8,573.3 1434.8,574.4 1437.2,551.7 1437.2,544.2 1439.8,497.4 1442.2,601.8 1442.2,521.2 1444.8,507.1 1444.8,579.0 1447.2,486.1 1449.8,587.0 1449.8,565.7 1452.2,570.3 1452.2,539.3 1454.8,498.3 1457.2,479.8 1457.2,594.1 1459.8,522.5 1462.2,519.7 1462.2,591.4 1464.8,513.3 1464.8,525.4 1467.2,524.0 1469.8,525.4 1469.8,493.2 1472.2,506.7 1472.2,566.8 1474.8,547.0 1477.2,460.5 1477.2,457.8 1479.8,526.1 1479.8,508.2 1482.2,496.6 1484.8,545.2 1484.8,444.0 1487.2,547.2 1489.8,505.9 1489.8,519.3 1492.2,506.7 1492.2,526.9 1494.8,485.1 1497.2,473.1 1497.2,519.3 1499.8,495.9 1499.8,443.6 1502.2,534.2 1504.8,527.5 1504.8,533.7 1507.2,484.8 1507.2,492.5 1509.8,466.0 1512.2,444.6 1512.2,478.1 1514.8,480.3 1517.2,450.9 1517.2,526.9 1519.8,417.1 1519.8,441.9 1522.2,445.2 1524.8,507.0 1524.8,456.6 1527.2,453.6 1527.2,434.7 1529.8,437.7 1532.2,419.3 1532.2,494.2 1534.8,480.2 1537.2,492.0 1537.2,436.9 1539.8,514.0 1539.8,424.6 1542.2,400.0 1544.8,445.9 1544.8,459.3 1547.2,477.5 1547.2,417.6 1549.8,467.3 1552.2,499.4 1552.2,418.0 1554.8,419.7 1554.8,389.7 1557.2,445.1 1559.8,460.6 1559.8,455.5 1562.2,454.8 1564.8,468.2 1564.8,431.0 1567.2,450.4 1567.2,398.5 1569.8,400.5 1572.2,426.4 1572.2,395.4 1574.8,432.2 1574.8,453.4 1577.2,424.1 1579.8,389.0 1579.8,386.5 1582.2,448.1 1582.2,380.7 1584.8,406.0 1587.2,393.2 1587.2,400.9 1589.8,431.2 1592.2,378.4 1592.2,349.5 1594.8,435.7 1594.8,395.8 1597.2,409.1 1599.8,384.2 1599.8,406.5 1602.2,419.2 1602.2,420.1 1604.8,368.3 1607.2,363.9 1607.2,384.4 1609.8,376.6 1612.2,385.3 1612.2,345.0 1614.8,313.8 1614.8,376.4 1617.2,386.4 1619.8,382.4 1619.8,413.2 1622.2,388.9 1622.2,351.1 1624.8,393.2 1627.2,360.4 1627.2,401.9 1629.8,370.4 1629.8,377.2 1632.2,370.1 1634.8,364.7 1634.8,315.6 1637.2,364.8 1639.8,308.9 1639.8,378.5 1642.2,393.7 1642.2,415.7 1644.8,372.5 1647.2,336.4 1647.2,307.3 1649.8,413.5 1649.8,310.9 1652.2,386.3 1654.8,300.4 1654.8,353.8 1657.2,377.4 1657.2,364.9 1659.8,352.0 1662.2,325.1 1662.2,429.0 1664.8,383.1 1667.2,361.0 1667.2,338.0 1669.8,347.8 1669.8,306.0 1672.2,370.5 1674.8,376.2 1674.8,302.2 1677.2,330.2 1677.2,360.9 1679.8,298.2 1682.2,379.0 1682.2,370.8 1684.8,307.7 1687.2,349.5 1687.2,370.7 1689.8,274.6 1689.8,333.9 1692.2,308.9 1694.8,306.1 1694.8,333.2 1697.2,297.1 1697.2,270.2 1699.8,269.7 1702.2,308.3 1702.2,325.0 1704.8,308.8 1704.8,306.8 1707.2,311.8 1709.8,351.2 1709.8,331.3 1712.2,295.3 1714.8,310.3 1714.8,357.6 1717.2,304.2 1717.2,311.4 1719.8,324.7 1722.2,292.4 1722.2,358.5 1724.8,272.5 1724.8,373.0 1727.2,305.6 1729.8,273.8 1729.8,320.2 1732.2,250.5 1732.2,319.3 1734.8,322.4 1737.2,277.0 1737.2,282.1 1739.8,327.3 1742.2,270.0 1742.2,293.6 1744.8,304.6 1744.8,349.0 1747.2,271.3 1749.8,290.8 1749.8,332.7 1752.2,220.7 1752.2,276.1 1754.8,223.0 1757.2,216.5 1757.2,353.6 1759.8,292.8 1759.8,343.3 1762.2,273.5 1764.8,304.1 1764.8,264.9 1767.2,259.9 1769.8,277.9 1769.8,285.2 1772.2,339.1 1772.2,271.5 1774.8,293.1 1777.2,268.1 1777.2,282.8 1779.8,227.2 1779.8,317.2 1782.2,256.1 1784.8,276.6 1784.8,271.2 1787.2,315.9 1789.8,303.3 1789.8,291.1 1792.2,299.6 1792.2,307.7 1794.8,321.2 1797.2,318.1 1797.2,337.5 1799.8,345.5 1799.8,343.0 1802.2,290.2 1804.8,347.3 1804.8,347.0 1807.2,293.4 1807.2,286.9 1809.8,242.8 1812.2,315.7 1812.2,250.7 1814.8,344.9 1817.2,210.6 1817.2,277.8 1819.8,302.5 1819.8,256.9 1822.2,239.5 1824.8,283.8 1824.8,249.4 1827.2,256.9 1827.2,269.9 1829.8,245.9 1832.2,260.3 1832.2,307.1 1834.8,251.5 1834.8,277.4 1837.2,232.5 1839.8,313.2 1839.8,204.6 1842.2,315.5 1844.8,181.7 1844.8,220.3 1847.2,184.3 1847.2,318.8 1849.8,280.5 1852.2,201.7 1852.2,240.0 1854.8,333.6 1854.8,266.5 1857.2,296.1 1859.8,201.7 1859.8,203.9 1862.2,297.0 1864.8,346.1 1864.8,250.6 1867.2,298.3 1867.2,235.4 1869.8,323.7 1872.2,254.7 1872.2,255.2 1874.8,206.8 1874.8,91.0 1877.2,278.2 1879.8,322.8 1879.8,226.1 1882.2,306.1 1882.2,256.6 1884.8,258.3 1887.2,234.2 1887.2,208.9 1889.8,224.7 1892.2,323.4 1892.2,225.5 1894.8,251.1 1894.8,302.6 1897.2,210.3 1899.8,279.1 1899.8,249.5 1902.2,273.5 1902.2,295.9 1904.8,266.9 1907.2,267.6 1907.2,295.4 1909.8,294.3 1909.8,260.1 1912.2,276.1 1914.8,249.7 1914.8,313.6 1917.2,245.3 1919.8,280.9 1919.8,324.6 1922.2,295.6 1922.2,259.3 1924.8,242.2 1927.2,242.5 1927.2,294.3 1929.8,271.9 1929.8,259.8 1932.2,328.1 1934.8,234.2 1934.8,250.0 1937.2,257.2 1937.2,282.9 1939.8,289.4 1942.2,135.0 1942.2,312.2 1944.8,307.3 1947.2,276.5 1947.2,224.5 1949.8,326.2 1949.8,258.0 1952.2,268.4 1954.8,286.5 1954.8,240.0 1957.2,254.8 1957.2,286.8 1959.8,267.9 1962.2,291.1 1962.2,242.8 1964.8,264.5 1967.2,230.4 1967.2,257.5 1969.8,276.5 1969.8,254.1 1972.2,208.4 1974.8,253.4 1974.8,264.8 1977.2,300.2 1977.2,255.4 1979.8,240.4 1982.2,211.0 1982.2,319.5 1984.8,216.8 1984.8,208.9 1987.2,244.1 1989.8,188.6 1989.8,287.2 1992.2,253.0 1994.8,263.0 1994.8,210.6 1997.2,226.7 1997.2,271.6 1999.8,271.5 2002.2,297.1 2002.2,274.4 2004.8,192.0 2004.8,241.8 2007.2,228.4 2009.8,269.7 2009.8,242.0 2012.2,260.1 2012.2,244.5 2014.8,269.2 2017.2,290.1 2017.2,251.4 2019.8,237.2 2022.2,253.3 2022.2,299.9 2024.8,282.0 2024.8,278.5 2027.2,266.7 2029.8,291.1 2029.8,276.3 2032.2,266.2 2032.2,255.3 2034.8,257.4 2037.2,250.5 2037.2,262.0 2039.8,271.0 2042.2,213.6 2042.2,220.5 2044.8,250.4 2044.8,258.0 2047.2,228.8 2049.8,251.6 2049.8,260.1 2052.2,263.1 2052.2,266.6 2054.8,279.1 2057.2,305.6 2057.2,306.7 2059.8,307.6 2059.8,304.2 2062.2,278.3 2064.8,281.9 2064.8,307.8 2067.2,292.0 2069.8,305.7 2069.8,291.1 2072.2,284.3 2072.2,290.6 2074.8,244.8 2077.2,273.1 2077.2,261.8 2079.8,290.2 2079.8,256.1 2082.2,273.8 2084.8,259.4 2084.8,276.5 2087.2,280.1 2087.2,261.1 2089.8,266.1 2092.2,266.4 2092.2,276.1 2094.8,255.5 2097.2,261.0 2097.2,252.1 2099.8,242.4 2099.8,260.2 2102.2,263.1 2104.8,244.2 2104.8,288.9 2107.2,249.1 2107.2,282.7 2109.8,278.6 2112.2,233.9 2112.2,275.7 2114.8,236.3 2117.2,279.6 2117.2,306.5 2119.8,345.8 2119.8,318.6 2122.2,241.4 2124.8,285.4 2124.8,353.3 2127.2,303.7 2127.2,358.1 2129.8,270.2 2132.2,275.3 2132.2,248.8 2134.8,279.6 2134.8,330.1 2137.2,261.5 2139.8,313.5 2139.8,300.9 2142.2,308.8 2144.8,278.5 2144.8,285.1 2147.2,328.5 2147.2,244.3 2149.8,293.3 2152.2,309.7 2152.2,276.3 2154.8,305.3 2154.8,208.7 2157.2,240.9 2159.8,211.0 2159.8,228.0 2162.2,198.0 2162.2,251.2 2164.8,212.7 2167.2,266.0 2167.2,193.9 2169.8,271.8 2172.2,236.6 2172.2,197.3 2174.8,198.7 2174.8,200.1 2177.2,219.6 2179.8,255.0 2179.8,293.5 2182.2,278.6 2182.2,214.8 2184.8,208.5 2187.2,249.4 2187.2,215.9 2189.8,256.2 2189.8,241.7 2192.2,321.6 2194.8,218.9 2194.8,279.3 2197.2,327.3 2199.8,262.0 2199.8,253.4 2202.2,328.8 2202.2,236.0 2204.8,238.8 2207.2,251.0 2207.2,300.1 2209.8,313.0 2209.8,290.0 2212.2,346.6 2214.8,292.9 2214.8,300.9 2217.2,295.2 2219.8,337.0 2219.8,308.8 2222.2,302.5 2222.2,347.6 2224.8,340.0 2227.2,335.6 2227.2,301.9 2229.8,309.2 2229.8,323.2 2232.2,325.9 2234.8,327.3 2234.8,321.1 2237.2,323.5 2237.2,290.0 2239.8,302.3 2242.2,280.6 2242.2,268.9 2244.8,264.3 2247.2,285.2 2247.2,263.9 2249.8,211.0 2249.8,283.2 2252.2,288.2 2254.8,308.3 2254.8,298.4 2257.2,348.7 2257.2,341.0 2259.8,306.5 2262.2,309.0 2262.2,312.1 2264.8,357.6 2264.8,338.5 2267.2,348.3"/>
<polyline class="ln" filter="url(#soft)" stroke="#0000ff" points="219.8,1222.0 219.8,1178.5 222.2,1180.4 222.2,1169.4 224.8,1209.5 227.2,1157.5 227.2,1227.2 229.8,1159.5 229.8,1199.9 232.2,1187.7 234.8,1226.4 234.8,1155.0 237.2,1186.8 237.2,1185.6 239.8,1221.7 242.2,1168.9 242.2,1191.3 244.8,1174.3 247.2,1197.2 247.2,1236.0 249.8,1168.8 249.8,1226.4 252.2,1220.5 254.8,1210.5 254.8,1221.0 257.2,1180.9 257.2,1195.4 259.8,1175.1 262.2,1192.4 262.2,1212.9 264.8,1158.0 264.8,1190.0 267.2,1183.0 269.8,1179.3 269.8,1184.0 272.2,1200.9 274.8,1173.4 274.8,1207.7 277.2,1243.2 277.2,1163.0 279.8,1197.8 282.2,1180.7 282.2,1184.6 284.8,1244.4 284.8,1205.1 287.2,1188.2 289.8,1209.1 289.8,1242.0 292.2,1208.0 292.2,1220.5 294.8,1213.0 297.2,1158.0 297.2,1177.9 299.8,1197.8 302.2,1201.6 302.2,1221.4 304.8,1227.9 304.8,1230.4 307.2,1214.9 309.8,1229.8 309.8,1190.0 312.2,1242.0 312.2,1221.5 314.8,1202.1 317.2,1221.5 317.2,1208.1 319.8,1237.7 322.2,1247.3 322.2,1250.5 324.8,1177.3 324.8,1176.5 327.2,1176.0 329.8,1251.6 329.8,1233.3 332.2,1220.1 332.2,1173.4 334.8,1205.8 337.2,1233.2 337.2,1219.2 339.8,1232.2 339.8,1209.0 342.2,1209.8 344.8,1219.3 344.8,1224.9 347.2,1220.1 349.8,1218.5 349.8,1182.5 352.2,1225.0 352.2,1219.0 354.8,1243.0 357.2,1244.7 357.2,1220.7 359.8,1207.4 359.8,1201.2 362.2,1226.5 364.8,1218.4 364.8,1251.6 367.2,1217.7 367.2,1201.9 369.8,1233.4 372.2,1206.1 372.2,1246.1 374.8,1226.6 377.2,1231.2 377.2,1190.9 379.8,1221.1 379.8,1234.9 382.2,1180.0 384.8,1210.9 384.8,1218.1 387.2,1184.5 387.2,1225.0 389.8,1237.8 392.2,1196.9 392.2,1226.0 394.8,1186.1 397.2,1216.8 397.2,1178.9 399.8,1244.8 399.8,1227.7 402.2,1217.4 404.8,1199.3 404.8,1248.8 407.2,1257.7 407.2,1178.6 409.8,1248.1 412.2,1257.0 412.2,1226.5 414.8,1189.4 414.8,1239.4 417.2,1180.0 419.8,1204.0 419.8,1188.8 422.2,1232.1 424.8,1238.0 424.8,1203.7 427.2,1231.5 427.2,1191.1 429.8,1238.5 432.2,1220.2 432.2,1214.6 434.8,1216.8 434.8,1257.0 437.2,1237.8 439.8,1232.5 439.8,1223.0 442.2,1221.6 442.2,1235.0 444.8,1225.6 447.2,1236.7 447.2,1259.0 449.8,1179.6 452.2,1245.9 452.2,1260.9 454.8,1231.3 454.8,1218.0 457.2,1217.2 459.8,1217.7 459.8,1221.2 462.2,1192.9 462.2,1208.0 464.8,1196.1 467.2,1227.3 467.2,1213.7 469.8,1233.7 469.8,1217.0 472.2,1246.2 474.8,1186.0 474.8,1262.9 477.2,1180.4 479.8,1205.5 479.8,1244.6 482.2,1263.4 482.2,1215.8 484.8,1260.0 487.2,1216.5 487.2,1256.1 489.8,1215.1 489.8,1239.8 492.2,1214.4 494.8,1190.2 494.8,1230.7 497.2,1235.7 499.8,1256.0 499.8,1220.2 502.2,1207.3 502.2,1238.0 504.8,1265.0 507.2,1231.2 507.2,1222.0 509.8,1255.1 509.8,1234.3 512.2,1268.8 514.8,1254.9 514.8,1242.9 517.2,1180.4 517.2,1242.0 519.8,1237.2 522.2,1248.4 522.2,1255.3 524.8,1182.5 527.2,1249.8 527.2,1293.0 529.8,1274.0 529.8,1188.2 532.2,1179.1 534.8,1179.0 534.8,1201.1 537.2,1194.3 537.2,1276.8 539.8,1218.2 542.2,1187.8 542.2,1261.6 544.8,1210.7 544.8,1191.4 547.2,1254.6 549.8,1247.2 549.8,1215.8 552.2,1270.6 554.8,1232.7 554.8,1276.9 557.2,1165.4 557.2,1275.2 559.8,1232.5 562.2,1193.6 562.2,1277.7 564.8,1213.6 564.8,1223.9 567.2,1209.4 569.8,1224.0 569.8,1237.1 572.2,1236.0 574.8,1249.4 574.8,1277.8 577.2,1176.0 577.2,1195.0 579.8,1196.6 582.2,1211.6 582.2,1183.7 584.8,1282.0 584.8,1216.8 587.2,1222.3 589.8,1231.2 589.8,1191.6 592.2,1207.0 592.2,1250.7 594.8,1249.2 597.2,1219.2 597.2,1278.2 599.8,1195.2 602.2,1222.5 602.2,1226.0 604.8,1191.0 604.8,1278.2 607.2,1243.2 609.8,1280.0 609.8,1278.1 612.2,1249.7 612.2,1245.6 614.8,1218.2 617.2,1237.4 617.2,1194.7 619.8,1255.9 619.8,1225.6 622.2,1239.1 624.8,1266.7 624.8,1243.6 627.2,1243.8 629.8,1245.0 629.8,1186.0 632.2,1258.5 632.2,1273.2 634.8,1257.5 637.2,1260.2 637.2,1229.7 639.8,1231.8 639.8,1224.8 642.2,1266.0 644.8,1245.8 644.8,1268.2 647.2,1241.1 647.2,1246.5 649.8,1254.4 652.2,1266.4 652.2,1255.9 654.8,1258.9 657.2,1257.3 657.2,1260.5 659.8,1243.5 659.8,1261.1 662.2,1258.3 664.8,1261.1 664.8,1269.9 667.2,1254.0 667.2,1263.6 669.8,1261.4 672.2,1272.9 672.2,1279.5 674.8,1254.2 677.2,1278.6 677.2,1294.0 679.8,1248.8 679.8,1259.6 682.2,1259.7 684.8,1270.1 684.8,1301.3 687.2,1276.6 687.2,1266.1 689.8,1288.5 692.2,1269.5 692.2,1298.9 694.8,1286.4 694.8,1306.2 697.2,1272.1 699.8,1313.9 699.8,1300.8 702.2,1299.1 704.8,1287.2 704.8,1275.4 707.2,1273.5 707.2,1288.9 709.8,1276.7 712.2,1299.7 712.2,1277.8 714.8,1309.4 714.8,1318.1 717.2,1283.0 719.8,1326.3 719.8,1295.4 722.2,1328.6 722.2,1312.7 724.8,1328.9 727.2,1281.2 727.2,1302.1 729.8,1337.9 732.2,1292.0 732.2,1269.9 734.8,1270.7 734.8,1271.5 737.2,1364.0 739.8,1300.0 739.8,1337.6 742.2,1300.8 742.2,1318.0 744.8,1309.3 747.2,1312.5 747.2,1309.4 749.8,1309.9 752.2,1323.9 752.2,1290.2 754.8,1336.6 754.8,1335.3 757.2,1312.8 759.8,1334.0 759.8,1303.8 762.2,1308.0 762.2,1323.3 764.8,1317.1 767.2,1312.6 767.2,1308.9 769.8,1312.2 769.8,1345.0 772.2,1290.8 774.8,1334.5 774.8,1322.8 777.2,1369.0 779.8,1341.2 779.8,1294.7 782.2,1344.8 782.2,1340.0 784.8,1334.3 787.2,1323.6 787.2,1352.9 789.8,1324.9 789.8,1369.9 792.2,1369.0 794.8,1369.5 794.8,1317.1 797.2,1298.9 797.2,1349.2 799.8,1352.0 802.2,1334.7 802.2,1301.9 804.8,1324.7 807.2,1346.7 807.2,1330.2 809.8,1331.6 809.8,1330.5 812.2,1315.3 814.8,1323.4 814.8,1305.6 817.2,1366.1 817.2,1323.6 819.8,1342.2 822.2,1311.7 822.2,1347.7 824.8,1298.3 827.2,1349.4 827.2,1329.7 829.8,1363.2 829.8,1303.0 832.2,1330.7 834.8,1336.2 834.8,1353.5 837.2,1318.9 837.2,1328.1 839.8,1292.3 842.2,1307.6 842.2,1332.1 844.8,1343.8 844.8,1315.4 847.2,1351.7 849.8,1350.4 849.8,1316.1 852.2,1282.6 854.8,1279.6 854.8,1294.4 857.2,1331.5 857.2,1312.4 859.8,1267.8 862.2,1296.1 862.2,1333.6 864.8,1285.2 864.8,1273.0 867.2,1318.4 869.8,1281.0 869.8,1266.0 872.2,1277.7 872.2,1266.8 874.8,1254.2 877.2,1278.3 877.2,1269.7 879.8,1258.0 882.2,1235.2 882.2,1249.2 884.8,1222.8 884.8,1228.4 887.2,1238.3 889.8,1233.7 889.8,1248.1 892.2,1226.5 892.2,1152.0 894.8,1197.9 897.2,1240.7 897.2,1211.7 899.8,1223.4 899.8,1202.5 902.2,1232.7 904.8,1209.6 904.8,1234.9 907.2,1197.1 909.8,1220.0 909.8,1207.7 912.2,1178.6 912.2,1205.8 914.8,1166.8 917.2,1164.4 917.2,1188.0 919.8,1160.4 919.8,1157.2 922.2,1159.0 924.8,1148.0 924.8,1182.3 927.2,1174.8 929.8,1163.9 929.8,1163.4 932.2,1170.1 932.2,1183.8 934.8,1168.5 937.2,1144.4 937.2,1159.4 939.8,1142.3 939.8,1137.3 942.2,1160.4 944.8,1126.2 944.8,1123.1 947.2,1101.9 947.2,1102.9 949.8,1133.6 952.2,1110.5 952.2,1132.2 954.8,1096.4 957.2,1100.1 957.2,1126.8 959.8,1140.6 959.8,1119.3 962.2,1129.6 964.8,1136.7 964.8,1120.1 967.2,1073.4 967.2,1087.9 969.8,1100.7 972.2,1074.1 972.2,1089.8 974.8,1041.5 974.8,1054.6 977.2,1081.1 979.8,1029.7 979.8,1038.8 982.2,1060.5 984.8,1021.2 984.8,1057.2 987.2,1035.0 987.2,1044.1 989.8,1042.3 992.2,1050.7 992.2,1030.7 994.8,1044.1 994.8,1025.5 997.2,1051.1 999.8,1075.3 999.8,1038.3 1002.2,1035.5 1004.8,1000.7 1004.8,1044.2 1007.2,1006.3 1007.2,1002.8 1009.8,1034.7 1012.2,1023.2 1012.2,1044.4 1014.8,1050.9 1014.8,998.6 1017.2,1013.4 1019.8,1050.0 1019.8,1030.8 1022.2,1022.1 1022.2,1035.3 1024.8,983.4 1027.2,1013.4 1027.2,1031.5 1029.8,1034.9 1032.2,968.6 1032.2,980.9 1034.8,995.5 1034.8,975.3 1037.2,970.2 1039.8,996.9 1039.8,966.6 1042.2,929.2 1042.2,981.4 1044.8,957.6 1047.2,946.8 1047.2,921.4 1049.8,990.5 1049.8,914.4 1052.2,911.9 1054.8,947.7 1054.8,987.4 1057.2,987.3 1059.8,916.0 1059.8,941.0 1062.2,901.4 1062.2,969.5 1064.8,897.6 1067.2,932.5 1067.2,963.0 1069.8,925.6 1069.8,970.5 1072.2,902.7 1074.8,935.0 1074.8,946.2 1077.2,916.1 1077.2,956.4 1079.8,930.6 1082.2,867.1 1082.2,956.4 1084.8,926.3 1087.2,908.7 1087.2,864.0 1089.8,902.8 1089.8,885.1 1092.2,913.4 1094.8,903.2 1094.8,936.1 1097.2,891.5 1097.2,899.3 1099.8,892.8 1102.2,875.6 1102.2,872.1 1104.8,905.4 1107.2,893.8 1107.2,851.8 1109.8,835.7 1109.8,862.3 1112.2,894.1 1114.8,858.2 1114.8,902.3 1117.2,832.1 1117.2,855.2 1119.8,803.0 1122.2,830.3 1122.2,836.4 1124.8,857.5 1124.8,887.6 1127.2,840.2 1129.8,878.6 1129.8,854.2 1132.2,861.5 1134.8,818.1 1134.8,869.2 1137.2,796.7 1137.2,839.9 1139.8,796.1 1142.2,806.7 1142.2,777.3 1144.8,802.8 1144.8,826.1 1147.2,811.9 1149.8,772.5 1149.8,853.2 1152.2,818.0 1152.2,835.7 1154.8,827.0 1157.2,782.2 1157.2,751.4 1159.8,770.7 1162.2,831.6 1162.2,762.4 1164.8,815.4 1164.8,771.3 1167.2,798.8 1169.8,736.8 1169.8,817.4 1172.2,779.8 1172.2,804.9 1174.8,782.3 1177.2,798.1 1177.2,769.1 1179.8,792.2 1182.2,721.9 1182.2,732.4 1184.8,785.3 1184.8,759.6 1187.2,751.4 1189.8,750.6 1189.8,769.7 1192.2,733.0 1192.2,765.6 1194.8,717.9 1197.2,731.8 1197.2,774.4 1199.8,775.1 1199.8,702.3 1202.2,763.3 1204.8,699.2 1204.8,755.6 1207.2,675.4 1209.8,690.9 1209.8,708.9 1212.2,718.2 1212.2,767.5 1214.8,748.6 1217.2,767.9 1217.2,754.0 1219.8,704.9 1219.8,703.5 1222.2,743.3 1224.8,709.2 1224.8,701.2 1227.2,663.1 1227.2,698.9 1229.8,650.4 1232.2,684.5 1232.2,666.9 1234.8,715.0 1237.2,678.2 1237.2,680.8 1239.8,728.2 1239.8,655.1 1242.2,693.7 1244.8,632.8 1244.8,682.8 1247.2,690.4 1247.2,702.2 1249.8,646.1 1252.2,681.6 1252.2,679.5 1254.8,666.9 1257.2,670.2 1257.2,678.0 1259.8,673.9 1259.8,627.4 1262.2,618.7 1264.8,708.0 1264.8,706.2 1267.2,605.4 1267.2,663.5 1269.8,667.4 1272.2,669.4 1272.2,646.6 1274.8,608.7 1274.8,630.8 1277.2,618.0 1279.8,636.2 1279.8,620.3 1282.2,622.3 1284.8,657.8 1284.8,662.3 1287.2,579.9 1287.2,601.2 1289.8,587.7 1292.2,651.9 1292.2,606.9 1294.8,654.3 1294.8,588.6 1297.2,602.8 1299.8,555.6 1299.8,639.7 1302.2,583.2 1302.2,544.6 1304.8,571.2 1307.2,535.3 1307.2,584.7 1309.8,587.0 1312.2,590.2 1312.2,626.3 1314.8,566.9 1314.8,599.6 1317.2,581.6 1319.8,563.4 1319.8,515.9 1322.2,594.3 1322.2,546.9 1324.8,560.8 1327.2,518.6 1327.2,564.3 1329.8,556.6 1329.8,551.8 1332.2,544.4 1334.8,578.7 1334.8,573.8 1337.2,564.1 1339.8,590.0 1339.8,518.5 1342.2,523.0 1342.2,501.0 1344.8,543.5 1347.2,506.5 1347.2,474.7 1349.8,485.6 1349.8,523.0 1352.2,549.7 1354.8,468.0 1354.8,494.9 1357.2,507.2 1359.8,486.9 1359.8,524.0 1362.2,506.0 1362.2,514.0 1364.8,480.1 1367.2,547.5 1367.2,498.8 1369.8,536.4 1369.8,482.0 1372.2,511.4 1374.8,471.2 1374.8,461.3 1377.2,467.1 1377.2,485.1 1379.8,478.2 1382.2,528.9 1382.2,447.0 1384.8,447.0 1387.2,526.3 1387.2,493.9 1389.8,425.7 1389.8,487.0 1392.2,476.7 1394.8,419.2 1394.8,453.5 1397.2,460.9 1397.2,479.4 1399.8,482.8 1402.2,455.6 1402.2,479.1 1404.8,443.2 1404.8,420.8 1407.2,416.0 1409.8,453.7 1409.8,391.5 1412.2,451.5 1414.8,400.8 1414.8,418.0 1417.2,438.1 1417.2,453.9 1419.8,376.4 1422.2,395.5 1422.2,415.2 1424.8,396.0 1424.8,433.0 1427.2,362.4 1429.8,415.7 1429.8,415.6 1432.2,402.8 1434.8,431.9 1434.8,360.2 1437.2,429.1 1437.2,371.1 1439.8,413.9 1442.2,378.4 1442.2,413.4 1444.8,410.5 1444.8,334.1 1447.2,375.0 1449.8,374.7 1449.8,367.3 1452.2,347.6 1452.2,425.6 1454.8,375.4 1457.2,417.6 1457.2,345.0 1459.8,326.7 1462.2,363.5 1462.2,338.6 1464.8,407.4 1464.8,360.1 1467.2,386.6 1469.8,340.5 1469.8,335.0 1472.2,342.0 1472.2,351.7 1474.8,364.6 1477.2,332.2 1477.2,314.4 1479.8,302.8 1479.8,334.4 1482.2,355.6 1484.8,352.8 1484.8,338.3 1487.2,320.1 1489.8,446.0 1489.8,359.8 1492.2,340.4 1492.2,346.1 1494.8,338.0 1497.2,375.0 1497.2,329.4 1499.8,396.0 1499.8,356.1 1502.2,365.5 1504.8,390.3 1504.8,359.6 1507.2,354.8 1507.2,279.8 1509.8,350.9 1512.2,385.5 1512.2,295.7 1514.8,286.7 1517.2,313.2 1517.2,355.4 1519.8,335.5 1519.8,297.2 1522.2,311.0 1524.8,347.8 1524.8,332.5 1527.2,365.8 1527.2,340.6 1529.8,314.5 1532.2,322.5 1532.2,286.0 1534.8,261.4 1537.2,304.3 1537.2,316.0 1539.8,241.7 1539.8,275.0 1542.2,280.2 1544.8,305.0 1544.8,282.9 1547.2,311.2 1547.2,296.2 1549.8,336.1 1552.2,221.0 1552.2,360.6 1554.8,350.9 1554.8,290.9 1557.2,316.8 1559.8,314.4 1559.8,253.3 1562.2,293.4 1564.8,321.0 1564.8,359.0 1567.2,329.0 1567.2,286.0 1569.8,210.0 1572.2,249.5 1572.2,264.9 1574.8,260.8 1574.8,334.4 1577.2,283.6 1579.8,241.9 1579.8,285.7 1582.2,266.5 1582.2,224.7 1584.8,282.9 1587.2,221.5 1587.2,279.4 1589.8,227.0 1592.2,204.5 1592.2,267.3 1594.8,190.0 1594.8,224.2 1597.2,245.9 1599.8,259.5 1599.8,262.4 1602.2,159.0 1602.2,187.0 1604.8,292.1 1607.2,196.8 1607.2,283.1 1609.8,202.2 1612.2,257.6 1612.2,251.1 1614.8,182.9 1614.8,223.8 1617.2,232.5 1619.8,228.4 1619.8,205.7 1622.2,220.1 1622.2,204.7 1624.8,185.2 1627.2,248.0 1627.2,205.1 1629.8,267.9 1629.8,246.5 1632.2,198.2 1634.8,225.5 1634.8,223.0 1637.2,202.3 1639.8,258.4 1639.8,220.8 1642.2,297.0 1642.2,276.4 1644.8,202.5 1647.2,237.2 1647.2,227.5 1649.8,171.8 1649.8,272.2 1652.2,271.5 1654.8,269.1 1654.8,212.7 1657.2,271.9 1657.2,220.3 1659.8,263.7 1662.2,289.6 1662.2,230.3 1664.8,168.9 1667.2,209.4 1667.2,244.1 1669.8,264.3 1669.8,173.3 1672.2,207.3 1674.8,221.6 1674.8,227.4 1677.2,243.4 1677.2,172.1 1679.8,190.0 1682.2,147.0 1682.2,216.9 1684.8,217.1 1687.2,240.7 1687.2,202.6 1689.8,217.0 1689.8,186.4 1692.2,149.9 1694.8,151.4 1694.8,197.9 1697.2,188.0 1697.2,172.3 1699.8,203.7 1702.2,163.8 1702.2,195.4 1704.8,190.6 1704.8,164.4 1707.2,139.5 1709.8,241.9 1709.8,212.4 1712.2,157.9 1714.8,200.7 1714.8,231.5 1717.2,217.9 1717.2,247.7 1719.8,197.3 1722.2,232.0 1722.2,222.8 1724.8,216.7 1724.8,213.5 1727.2,226.5 1729.8,251.6 1729.8,196.2 1732.2,198.7 1732.2,218.7 1734.8,206.0 1737.2,224.6 1737.2,236.8 1739.8,282.0 1742.2,196.9 1742.2,132.8 1744.8,189.9 1744.8,200.6 1747.2,177.0 1749.8,173.8 1749.8,136.0 1752.2,194.8 1752.2,172.2 1754.8,137.8 1757.2,161.3 1757.2,164.6 1759.8,215.9 1759.8,218.0 1762.2,253.4 1764.8,228.1 1764.8,163.6 1767.2,164.6 1769.8,253.8 1769.8,268.2 1772.2,205.1 1772.2,231.9 1774.8,159.9 1777.2,154.5 1777.2,170.0 1779.8,197.5 1779.8,191.1 1782.2,200.5 1784.8,190.8 1784.8,230.5 1787.2,255.7 1789.8,206.9 1789.8,261.7 1792.2,185.7 1792.2,191.9 1794.8,223.7 1797.2,202.1 1797.2,251.3 1799.8,198.2 1799.8,257.8 1802.2,226.9 1804.8,268.5 1804.8,210.6 1807.2,210.3 1807.2,214.2 1809.8,144.2 1812.2,218.5 1812.2,208.2 1814.8,91.0 1817.2,103.8 1817.2,104.0 1819.8,202.6 1819.8,230.0 1822.2,249.6 1824.8,135.2 1824.8,129.2 1827.2,164.5 1827.2,101.7 1829.8,150.4 1832.2,217.1 1832.2,253.5 1834.8,191.3 1834.8,254.3 1837.2,197.9 1839.8,188.1 1839.8,171.6 1842.2,188.4 1844.8,106.0 1844.8,177.4 1847.2,157.1 1847.2,200.5 1849.8,192.5 1852.2,132.0 1852.2,187.3 1854.8,165.0 1854.8,136.6 1857.2,224.6 1859.8,268.7 1859.8,275.4 1862.2,266.7 1864.8,166.1 1864.8,245.8 1867.2,240.6 1867.2,119.4 1869.8,223.5 1872.2,210.0 1872.2,185.6 1874.8,102.0 1874.8,178.7 1877.2,251.3 1879.8,159.7 1879.8,169.8 1882.2,180.1 1882.2,192.9 1884.8,108.7 1887.2,243.8 1887.2,193.3 1889.8,209.2 1892.2,193.8 1892.2,178.1 1894.8,171.8 1894.8,192.1 1897.2,195.4 1899.8,126.0 1899.8,206.3 1902.2,188.8 1902.2,262.0 1904.8,148.9 1907.2,150.0 1907.2,216.8 1909.8,198.1 1909.8,149.7 1912.2,199.7 1914.8,188.7 1914.8,252.7 1917.2,197.5 1919.8,253.0 1919.8,236.1 1922.2,215.1 1922.2,221.8 1924.8,234.5 1927.2,166.7 1927.2,230.6 1929.8,206.7 1929.8,274.8 1932.2,194.7 1934.8,258.1 1934.8,159.5 1937.2,246.5 1937.2,226.9 1939.8,207.3 1942.2,211.4 1942.2,205.7 1944.8,231.3 1947.2,210.6 1947.2,151.5 1949.8,210.6 1949.8,288.0 1952.2,222.6 1954.8,234.4 1954.8,203.5 1957.2,232.0 1957.2,152.0 1959.8,212.9 1962.2,299.0 1962.2,184.1 1964.8,218.3 1967.2,244.6 1967.2,212.4 1969.8,174.1 1969.8,244.6 1972.2,184.8 1974.8,205.4 1974.8,191.6 1977.2,217.7 1977.2,206.4 1979.8,204.9 1982.2,243.5 1982.2,273.8 1984.8,209.0 1984.8,236.1 1987.2,209.3 1989.8,224.0 1989.8,258.1 1992.2,223.4 1994.8,194.4 1994.8,197.3 1997.2,201.2 1997.2,222.9 1999.8,255.2 2002.2,173.7 2002.2,185.4 2004.8,174.0 2004.8,166.8 2007.2,283.7 2009.8,235.7 2009.8,302.8 2012.2,191.1 2012.2,296.8 2014.8,226.0 2017.2,240.8 2017.2,223.2 2019.8,328.0 2022.2,212.1 2022.2,269.2 2024.8,210.9 2024.8,251.1 2027.2,259.6 2029.8,285.4 2029.8,263.1 2032.2,271.4 2032.2,278.8 2034.8,257.3 2037.2,274.8 2037.2,223.6 2039.8,234.2 2042.2,333.1 2042.2,269.5 2044.8,244.1 2044.8,330.0 2047.2,271.0 2049.8,253.9 2049.8,224.3 2052.2,347.5 2052.2,238.4 2054.8,256.4 2057.2,299.7 2057.2,277.5 2059.8,262.8 2059.8,253.8 2062.2,304.2 2064.8,320.1 2064.8,203.0 2067.2,279.3 2069.8,323.6 2069.8,305.2 2072.2,243.3 2072.2,256.9 2074.8,255.1 2077.2,248.5 2077.2,262.8 2079.8,296.4 2079.8,272.5 2082.2,319.9 2084.8,290.4 2084.8,265.5 2087.2,319.1 2087.2,291.0 2089.8,203.0 2092.2,347.5 2092.2,303.0 2094.8,268.9 2097.2,322.3 2097.2,291.4 2099.8,357.6 2099.8,331.2 2102.2,334.1 2104.8,340.9 2104.8,283.8 2107.2,342.3 2107.2,222.5 2109.8,244.0 2112.2,256.7 2112.2,307.5 2114.8,211.7 2117.2,293.7 2117.2,251.0 2119.8,318.1 2119.8,251.1 2122.2,361.5 2124.8,321.8 2124.8,228.4 2127.2,362.9 2127.2,225.0 2129.8,258.2 2132.2,350.0 2132.2,329.0 2134.8,374.6 2134.8,293.6 2137.2,283.9 2139.8,286.0 2139.8,391.0 2142.2,391.1 2144.8,314.4 2144.8,342.2 2147.2,319.9 2147.2,314.5 2149.8,343.5 2152.2,323.7 2152.2,321.6 2154.8,302.7 2154.8,340.4 2157.2,304.7 2159.8,317.1 2159.8,324.2 2162.2,273.7 2162.2,307.3 2164.8,307.6 2167.2,324.5 2167.2,277.5 2169.8,274.7 2172.2,390.7 2172.2,385.0 2174.8,362.8 2174.8,393.8 2177.2,344.7 2179.8,325.3 2179.8,348.5 2182.2,269.3 2182.2,291.6 2184.8,360.4 2187.2,335.3 2187.2,291.2 2189.8,358.4 2189.8,370.0 2192.2,359.7 2194.8,338.4 2194.8,314.6 2197.2,344.3 2199.8,354.8 2199.8,331.3 2202.2,361.6 2202.2,353.4 2204.8,354.7 2207.2,294.7 2207.2,379.0 2209.8,396.9 2209.8,334.9 2212.2,302.5 2214.8,368.2 2214.8,335.0 2217.2,398.0 2219.8,390.3 2219.8,311.8 2222.2,380.3 2222.2,320.5 2224.8,409.7 2227.2,382.0 2227.2,359.4 2229.8,375.3 2229.8,392.3 2232.2,403.3 2234.8,406.0 2234.8,399.2 2237.2,366.8 2237.2,451.0 2239.8,339.7 2242.2,416.9 2242.2,411.4 2244.8,275.0 2247.2,362.6 2247.2,386.4 2249.8,406.3 2249.8,388.8 2252.2,365.9 2254.8,386.8 2254.8,379.1 2257.2,404.3 2257.2,358.5 2259.8,384.2 2262.2,384.2 2262.2,396.9 2264.8,378.9 2264.8,385.2 2267.2,383.0"/>
</g>
<!-- plot frame -->
<g>
<rect x="216" y="68" width="2054" height="1.8" fill="#999"/>
<rect x="2266" y="66" width="2.8" height="1327" fill="#bbb"/>
<rect x="2271" y="66" width="2.4" height="1331.6" fill="#999"/>
<rect x="218" y="1390.6" width="2050" height="2.2" fill="#ddd"/>
<rect x="214" y="1395" width="2059.4" height="2.7" fill="#777"/>
<rect x="214" y="65.3" width="5" height="1330" fill="#000"/>
<rect x="214" y="65.3" width="2057" height="2.9" fill="#000"/>
<rect x="2268.6" y="65.3" width="2.6" height="1330" fill="#000"/>
<rect x="214" y="1392.7" width="2057.2" height="2.6" fill="#000"/>
</g>
<!-- ticks -->
<g>
<rect x="317.3" y="1377.8" width="2.5" height="30.2" fill="#777"/><rect x="319.8" y="1377.8" width="2.4" height="30.2" fill="#000"/><rect x="322.2" y="1377.8" width="2.4" height="30.2" fill="#ddd"/>
<rect x="623.9" y="1377.8" width="2.5" height="30.2" fill="#777"/><rect x="626.4" y="1377.8" width="2.4" height="30.2" fill="#000"/><rect x="628.8" y="1377.8" width="2.4" height="30.2" fill="#ddd"/>
<rect x="932.3" y="1377.8" width="2.5" height="30.2" fill="#777"/><rect x="934.8" y="1377.8" width="2.4" height="30.2" fill="#000"/><rect x="937.2" y="1377.8" width="2.4" height="30.2" fill="#ddd"/>
<rect x="1240.0" y="1377.8" width="2.5" height="30.2" fill="#777"/><rect x="1242.5" y="1377.8" width="2.4" height="30.2" fill="#000"/><rect x="1244.9" y="1377.8" width="2.4" height="30.2" fill="#ddd"/>
<rect x="1548.3" y="1377.8" width="2.5" height="30.2" fill="#777"/><rect x="1550.8" y="1377.8" width="2.4" height="30.2" fill="#000"/><rect x="1553.2" y="1377.8" width="2.4" height="30.2" fill="#ddd"/>
<rect x="1856.5" y="1377.8" width="2.5" height="30.2" fill="#777"/><rect x="1859.0" y="1377.8" width="2.4" height="30.2" fill="#000"/><rect x="1861.4" y="1377.8" width="2.4" height="30.2" fill="#ddd"/>
<rect x="2164.7" y="1377.8" width="2.5" height="30.2" fill="#777"/><rect x="2167.2" y="1377.8" width="2.4" height="30.2" fill="#000"/><rect x="2169.6" y="1377.8" width="2.4" height="30.2" fill="#ddd"/>
</g>
<g stroke="#111" stroke-width="3.4">
<line x1="206" y1="251.6" x2="234" y2="251.6"/>
<line x1="201" y1="444.5" x2="236.5" y2="444.5"/>
<line x1="202" y1="635.8" x2="235" y2="635.8"/>
<line x1="202" y1="829.3" x2="235" y2="829.3"/>
<line x1="204" y1="1020.3" x2="236.5" y2="1020.3"/>
<line x1="201" y1="1213.3" x2="233.5" y2="1213.3"/>
</g>
<!-- x tick labels -->
<g class="ser" text-anchor="middle">
<text x="299.5" y="1479">420</text>
<text x="623.5" y="1479">480</text>
<text x="928" y="1479">540</text>
<text x="1231.5" y="1479">600</text>
<text x="1536.5" y="1479">660</text>
<text x="1859.5" y="1479">720</text>
<text x="2163.8" y="1479">780</text>
<text x="1237" y="1562" textLength="99" lengthAdjust="spacingAndGlyphs">nm</text>
</g>
<!-- y tick labels -->
<g class="ser" text-anchor="middle">
<text transform="translate(187.5,243.5) rotate(-90)">598</text>
<text transform="translate(183.5,443) rotate(-90)">596</text>
<text transform="translate(183,634.5) rotate(-90)">594</text>
<text transform="translate(185,828) rotate(-90)">592</text>
<text transform="translate(185.8,1020.5) rotate(-90)">590</text>
<text transform="translate(182.2,1218.5) rotate(-90)">588</text>
<text transform="translate(89,727) rotate(-90)" style="font-size:80px">CCD cts</text>
</g>
<!-- legend -->
<g class="leg">
<text x="316" y="204.5" fill="#3f48cc" textLength="88" lengthAdjust="spacingAndGlyphs">S1</text>
<text x="316" y="316.5" fill="#ff7f27" textLength="88" lengthAdjust="spacingAndGlyphs">S2</text>
<text x="316" y="428.5" fill="#ffc90e" textLength="88" lengthAdjust="spacingAndGlyphs">S3</text>
</g>
</svg>
</body>
</html>
